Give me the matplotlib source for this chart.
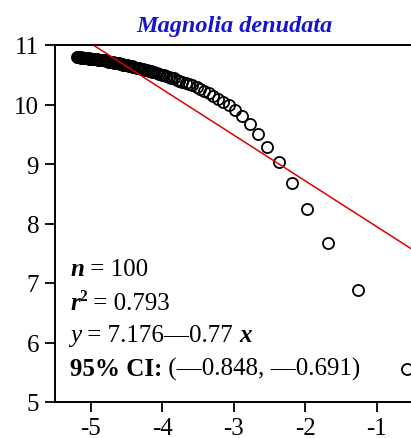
import matplotlib
matplotlib.use("Agg")
import matplotlib.pyplot as plt

plt.rcParams['font.family'] = ['Liberation Serif', 'DejaVu Serif']

title = "Magnolia denudata"

x_vals = [-0.58, -1.27, -1.68, -1.97, -2.19, -2.37, -2.53, -2.66, -2.78, -2.88,
          -2.98, -3.07, -3.15, -3.22, -3.29, -3.35, -3.41, -3.47, -3.52, -3.58,
          -3.63, -3.67, -3.72, -3.76, -3.80, -3.84, -3.88, -3.91, -3.95, -3.98,
          -4.01, -4.05, -4.08, -4.11, -4.14, -4.16, -4.19, -4.22, -4.24, -4.27,
          -4.29, -4.32, -4.34, -4.36, -4.39, -4.41, -4.43, -4.45, -4.47, -4.49,
          -4.51, -4.53, -4.55, -4.57, -4.59, -4.61, -4.62, -4.64, -4.66, -4.67,
          -4.69, -4.71, -4.72, -4.74, -4.75, -4.77, -4.79, -4.80, -4.81, -4.83,
          -4.84, -4.86, -4.87, -4.88, -4.90, -4.91, -4.92, -4.94, -4.95, -4.96,
          -4.97, -4.99, -5.00, -5.01, -5.02, -5.03, -5.05, -5.06, -5.07, -5.08,
          -5.09, -5.10, -5.11, -5.12, -5.13, -5.14, -5.16, -5.17, -5.18, -5.19]

y_vals = [5.55, 6.88, 7.67, 8.24, 8.68, 9.03, 9.29, 9.50, 9.67, 9.80,
          9.90, 9.99, 10.05, 10.10, 10.15, 10.19, 10.22, 10.26, 10.29, 10.32,
          10.34, 10.36, 10.38, 10.40, 10.42, 10.44, 10.45, 10.47, 10.48, 10.49,
          10.50, 10.52, 10.53, 10.54, 10.55, 10.56, 10.57, 10.58, 10.58, 10.59,
          10.60, 10.61, 10.61, 10.62, 10.63, 10.63, 10.64, 10.64, 10.65, 10.66,
          10.66, 10.67, 10.67, 10.68, 10.68, 10.69, 10.69, 10.70, 10.70, 10.70,
          10.71, 10.71, 10.71, 10.72, 10.72, 10.73, 10.73, 10.74, 10.74, 10.74,
          10.74, 10.75, 10.75, 10.75, 10.75, 10.76, 10.76, 10.76, 10.76, 10.77,
          10.77, 10.77, 10.77, 10.77, 10.77, 10.78, 10.78, 10.78, 10.78, 10.78,
          10.78, 10.78, 10.78, 10.78, 10.78, 10.79, 10.79, 10.79, 10.79, 10.79]

intercept = 7.176
slope = -0.77
line_x = [-5.5, -0.48]

x_ticks = [-5, -4, -3, -2, -1]
y_ticks = [5, 6, 7, 8, 9, 10, 11]

# each stats line as (text, weight, style, superscript?)
stat_lines = [
    [("n", "bold", "italic", False), (" = 100", "normal", "normal", False)],
    [("r", "bold", "italic", False), ("2", "bold", "normal", True),
     (" = 0.793", "normal", "normal", False)],
    [("y", "normal", "italic", False), (" = 7.176\u20140.77 ", "normal", "normal", False),
     ("x", "bold", "italic", False)],
    [("95% CI:", "bold", "normal", False),
     (" (\u20140.848, \u20140.691)", "normal", "normal", False)],
]
stat_y = [7.24, 6.67, 6.13, 5.57]

W, H = 411, 439
fig = plt.figure(figsize=(W / 100, H / 100), dpi=100)
left_px, right_px, top_px, bottom_px = 55, 414, 46, 403
ax = fig.add_axes([left_px / W, 1 - bottom_px / H,
                   (right_px - left_px) / W, (bottom_px - top_px) / H])

ax.plot(x_vals, y_vals, linestyle='none', marker='o', markersize=8,
        markerfacecolor='none', markeredgecolor='black', markeredgewidth=1.3)
ax.plot(line_x, [intercept + slope * v for v in line_x], color='#e00000', lw=1.1)

ax.set_xlim(-5.5, -0.48)
ax.set_ylim(5, 11)
ax.set_xticks(x_ticks)
ax.set_yticks(y_ticks)
ax.set_xticklabels([f"-{abs(v)}" for v in x_ticks])
ax.tick_params(axis='both', direction='out', length=7.5, width=1.3, labelsize=18,
               top=False, right=False)
ax.tick_params(axis='y', pad=4)
ax.tick_params(axis='x', pad=3)
for s in ax.spines.values():
    s.set_linewidth(1.4)

ax.set_title(title, fontsize=17.5, fontweight='bold', style='italic',
             color='#1414d2', pad=10)

fs = 18
for parts, yy in zip(stat_lines, stat_y):
    base = None
    prev = None
    for txt, wt, st, sup in parts:
        if base is None:
            base = ax.text(-5.29, yy, txt, fontsize=fs, fontweight=wt, style=st,
                           ha='left', va='center')
            prev = base
        elif sup:
            prev = ax.annotate(txt, xy=(1, 0.45), xycoords=prev, fontsize=fs * 0.62,
                               fontweight=wt, style=st, ha='left', va='bottom')
        else:
            prev = ax.annotate(txt, xy=(1, 0), xycoords=(prev, base), fontsize=fs,
                               fontweight=wt, style=st, ha='left', va='bottom')

fig.savefig("out.png", dpi=100)
